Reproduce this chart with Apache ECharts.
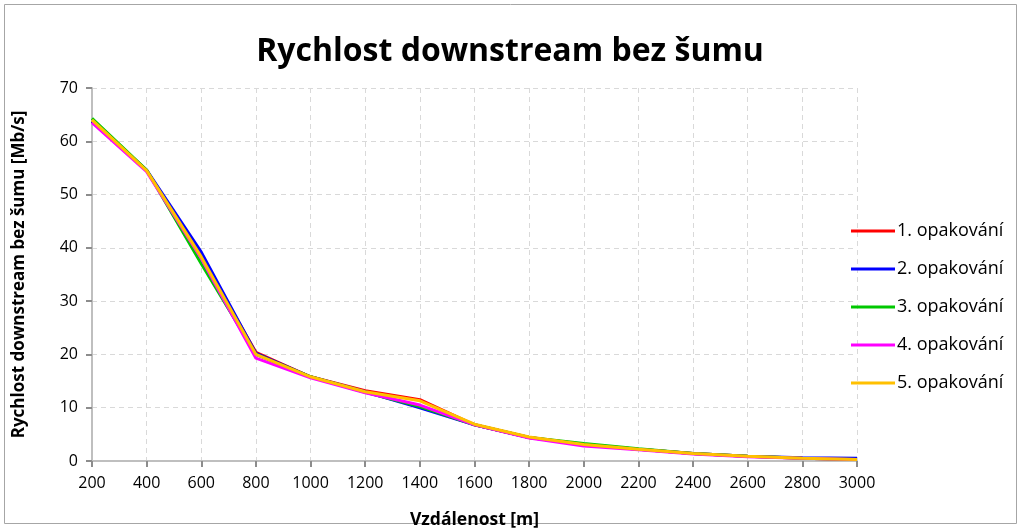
<!DOCTYPE html>
<html>
<head>
<meta charset="utf-8">
<script src="https://cdn.jsdelivr.net/npm/echarts@6/dist/echarts.min.js"></script>
<style>
  html, body { margin: 0; padding: 0; background: #fff; }
  #chart { width: 1020px; height: 528px; }
</style>
</head>
<body>
<div id="chart"></div>
<script>
  'use strict';

  // distance [m]
  var distances = [200, 400, 600, 800, 1000, 1200, 1400, 1600, 1800, 2000, 2200, 2400, 2600, 2800, 3000];

  // downstream rate [Mb/s], one array per repetition
  var rep1 = [63.8, 54.5, 38.3, 20.4, 15.8, 13.2, 11.5, 6.8, 4.4, 3.1, 2.2, 1.4, 0.9, 0.5, 0.3];
  var rep2 = [63.8, 54.6, 39.2, 20.2, 15.8, 13.0, 10.0, 6.8, 4.4, 3.1, 2.2, 1.4, 0.9, 0.6, 0.5];
  var rep3 = [64.3, 54.6, 37.0, 20.0, 15.8, 12.9, 10.2, 6.8, 4.4, 3.3, 2.3, 1.4, 0.9, 0.5, 0.3];
  var rep4 = [63.5, 54.3, 38.0, 19.3, 15.6, 12.8, 10.5, 6.8, 4.3, 2.8, 2.1, 1.3, 0.8, 0.5, 0.3];
  var rep5 = [64.0, 54.5, 38.3, 20.0, 15.8, 13.0, 11.3, 6.9, 4.5, 3.1, 2.2, 1.4, 0.9, 0.5, 0.3];

  var seriesNames = ['1. opakování', '2. opakování', '3. opakování', '4. opakování', '5. opakování'];
  var seriesData = [rep1, rep2, rep3, rep4, rep5];
  var colors = ['#ff0000', '#0000ff', '#00c800', '#ff00ff', '#ffc000'];

  var font = 'Open Sans';

  var chart = echarts.init(document.getElementById('chart'));

  var series = seriesData.map(function (vals, i) {
    return {
      name: seriesNames[i],
      type: 'line',
      symbol: 'none',
      lineStyle: { width: 3, color: colors[i] },
      itemStyle: { color: colors[i] },
      data: vals.map(function (v, j) { return [distances[j], v]; })
    };
  });

  chart.setOption({
    animation: false,
    color: colors,
    title: {
      text: 'Rychlost downstream bez šumu',
      left: 'center',
      top: 31,
      textStyle: { fontFamily: font, fontWeight: 'bold', fontSize: 32, color: '#000' }
    },
    graphic: [{
      type: 'rect',
      shape: { x: 4.5, y: 4.5, width: 1012, height: 519 },
      style: { fill: 'none', stroke: '#a6a6a6', lineWidth: 1 },
      silent: true
    }],
    legend: {
      orient: 'vertical',
      left: 846,
      top: 217,
      itemGap: 20,
      itemWidth: 44,
      itemHeight: 3,
      icon: 'rect',
      textStyle: { fontFamily: font, fontSize: 18, color: '#000', padding: [0, 0, 0, -3] },
      data: seriesNames
    },
    grid: { left: 92, right: 163, top: 88, bottom: 67, outerBoundsMode: 'none', containLabel: false },
    xAxis: {
      type: 'value',
      min: 200,
      max: 3000,
      interval: 200,
      name: 'Vzdálenost [m]',
      nameLocation: 'middle',
      nameGap: 50,
      nameTextStyle: { fontFamily: font, fontWeight: 'bold', fontSize: 17.5, color: '#000' },
      axisLine: { lineStyle: { color: '#bfbfbf', width: 2 } },
      axisTick: { show: true, length: 6, lineStyle: { color: '#8c8c8c', width: 2 } },
      axisLabel: {
        fontFamily: font, fontSize: 16, color: '#000', margin: 14,
        formatter: function (v) { return String(v); }
      },
      splitLine: { show: true, lineStyle: { color: '#d9d9d9', type: [5, 4], width: 1 } }
    },
    yAxis: {
      type: 'value',
      min: 0,
      max: 70,
      interval: 10,
      name: 'Rychlost downstream bez šumu [Mb/s]',
      nameLocation: 'middle',
      nameGap: 64,
      nameTextStyle: { fontFamily: font, fontWeight: 'bold', fontSize: 17, color: '#000' },
      axisLine: { show: true, lineStyle: { color: '#bfbfbf', width: 2 } },
      axisTick: { show: true, length: 6, lineStyle: { color: '#8c8c8c', width: 2 } },
      axisLabel: { fontFamily: font, fontSize: 16, color: '#000', margin: 14 },
      splitLine: { show: true, lineStyle: { color: '#d9d9d9', type: [5, 4], width: 1 } }
    },
    series: series
  });
</script>
</body>
</html>
